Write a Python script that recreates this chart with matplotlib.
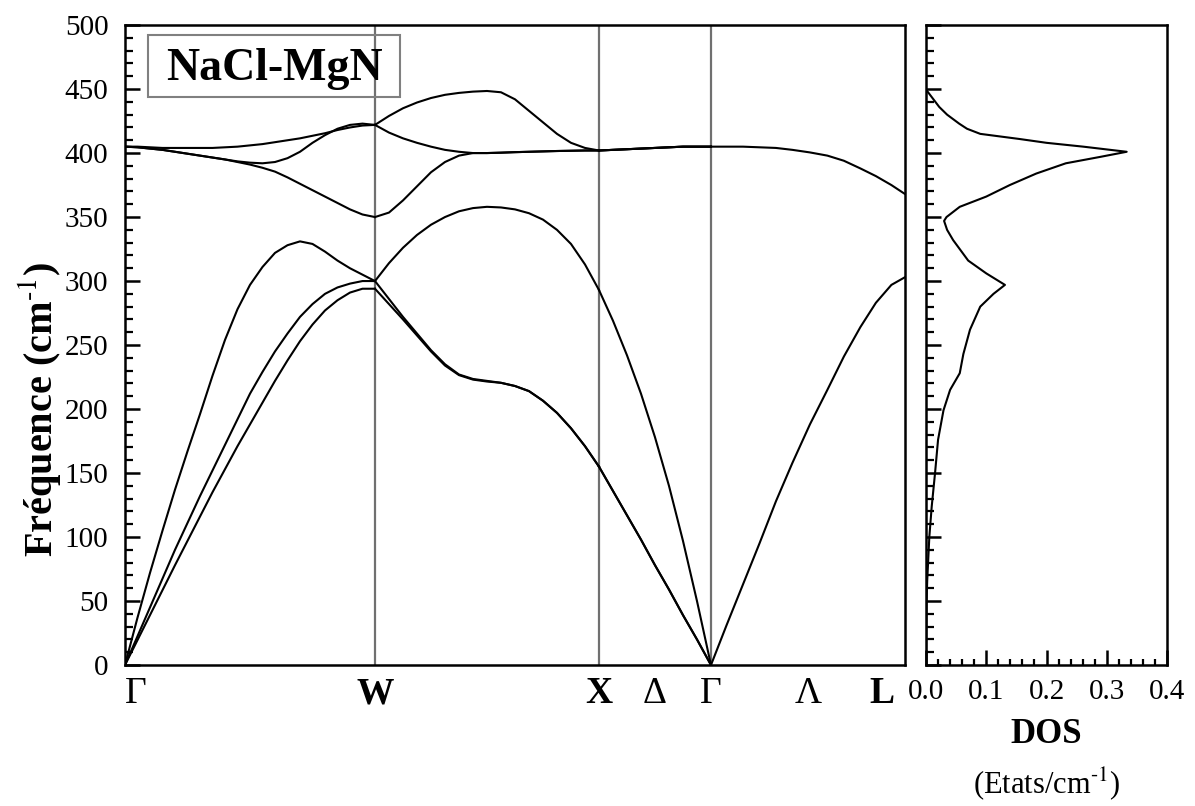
import numpy as np
import matplotlib.pyplot as plt
from matplotlib.ticker import MultipleLocator
from matplotlib.patches import Rectangle
from matplotlib.transforms import ScaledTranslation

plt.rcParams['font.family'] = ['Liberation Serif', 'DejaVu Serif']
plt.rcParams['mathtext.fontset'] = 'stix'

# high symmetry points along the path (path units)
k_nodes = [0.0, 1.0, 1.896, 2.344, 3.12]

# Gamma -> W  (position = fraction of segment, values in cm-1)
gw_s = [0, .05, .1, .15, .2, .25, .3, .35, .4, .45, .5,
        .55, .6, .65, .7, .75, .8, .85, .9, .95, 1.0]
gw_bands = [
    [0, 19.5, 39, 58.5, 78, 97, 116, 135, 153, 171, 188,
     205, 222, 238, 253, 266, 277, 285, 291, 294, 294],
    [0, 22.5, 45, 67.5, 90, 111, 132, 152, 172, 192, 212,
     229, 245, 259, 272, 282, 290, 295, 298, 300, 300],
    [0, 37, 72, 105, 137, 167, 196, 226, 254, 278, 297,
     311, 322, 328, 331, 329, 323, 316, 310, 305, 300],
    [405, 404.5, 403.5, 402.5, 401, 399.5, 398, 396.5, 395, 393, 391,
     388.5, 385.5, 381, 376, 371, 366, 361, 356, 352, 350],
    [405, 404.5, 403.5, 402.5, 401, 399.5, 398, 396.5, 395, 393.5, 392.5,
     392, 393, 396, 401, 408, 414, 419, 422, 423, 422],
    [405, 405, 404.5, 404, 404, 404, 404, 404, 404.5, 405, 406,
     407, 408.5, 410, 411.5, 413.5, 415.5, 418, 420, 421.5, 422],
]

# W -> X
wx_s = [i / 16 for i in range(17)]
wx_bands = [
    [294, 282, 270, 257.5, 245, 234, 226.5, 223, 221.5, 220.5, 218, 214, 206.5, 197, 185, 171, 155],
    [300, 286, 272, 259, 246, 235, 227, 223.5, 222, 220.5, 218, 214, 206.5, 197, 185, 171, 155],
    [300, 314, 326, 336, 344, 350, 354.5, 357, 358, 357.5, 356, 353, 348, 340, 329, 313, 293],
    [350, 353.5, 363, 374, 385, 393, 398, 400, 400, 400.3, 400.7, 401, 401.3, 401.6, 401.8, 402, 402],
    [422, 416, 411.5, 408, 405, 402.5, 401, 400, 400, 400.3, 400.7, 401, 401.3, 401.6, 401.8, 402, 402],
    [422, 429, 435, 439.5, 443, 445.5, 447, 448, 448.5, 447.5, 442, 433, 424, 415, 408, 404, 402],
]

# X -> Gamma
xg_s = [0, .125, .25, .375, .5, .625, .75, .875, 1.0]
xg_bands = [
    [155, 136, 117, 98, 78, 59, 39, 20, 0],
    [155, 136, 117, 98, 78, 59, 39, 20, 0],
    [293, 269, 242, 212, 178, 140, 97, 50, 0],
    [402, 402.5, 403, 403.5, 404, 404.5, 405, 405, 405],
    [402, 402.5, 403, 403.5, 404, 404.5, 405, 405, 405],
    [402, 402.5, 403, 403.5, 404, 404.5, 405, 405, 405],
]

# Gamma -> L
gl_s = [0, .08, .165, .25, .335, .42, .51, .6, .685, .77, .85, .93, 1.0]
gl_bands = [
    [0, 31, 63, 95, 128, 158, 188, 215, 241, 264, 283, 297, 303],
    [405, 405, 405, 404.5, 404, 402.5, 400.5, 398, 394, 388, 382, 375, 368],
]

# phonon density of states
dos_freq = [0, 50, 66, 100, 124, 150, 176, 199, 215, 228, 243, 262, 280, 290,
            297, 306, 316, 332, 340, 347, 350, 358, 366, 375, 384, 392, 397,
            401, 405, 408, 411, 415, 419, 423, 430, 436, 449]
dos_vals = [0, 0.001, 0.002, 0.0055, 0.0095, 0.015, 0.020, 0.029, 0.040, 0.056,
            0.062, 0.073, 0.090, 0.112, 0.131, 0.100, 0.070, 0.045, 0.035, 0.030,
            0.034, 0.056, 0.100, 0.139, 0.183, 0.232, 0.289, 0.333, 0.261, 0.200,
            0.155, 0.090, 0.068, 0.055, 0.035, 0.022, 0.001]

segments = [(gw_s, gw_bands), (wx_s, wx_bands), (xg_s, xg_bands), (gl_s, gl_bands)]

fig = plt.figure(figsize=(11.95, 8.06), dpi=100)
ax = fig.add_axes([0.1046, 0.1749, 0.6527, 0.794])
ax2 = fig.add_axes([0.7749, 0.1749, 0.2017, 0.794])

for i, (s, bands) in enumerate(segments):
    x = k_nodes[i] + np.array(s) * (k_nodes[i + 1] - k_nodes[i])
    for b in bands:
        ax.plot(x, b, color='black', lw=1.5, solid_joinstyle='round')

for k in k_nodes[1:-1]:
    ax.axvline(k, color='#707070', lw=1.6, zorder=0)

ax.set_xlim(k_nodes[0], k_nodes[-1])
ax.set_ylim(0, 500)

# x labels: symmetry points and directions
tick_pos = [k_nodes[0], k_nodes[1], k_nodes[2], (k_nodes[2] + k_nodes[3]) / 2,
            k_nodes[3], (k_nodes[3] + k_nodes[4]) / 2, k_nodes[4]]
tick_lab = ['Γ', 'W', 'X', 'Δ', 'Γ', 'Λ', 'L']
ax.set_xticks(tick_pos)
ax.set_xticklabels(tick_lab, fontsize=27)
ax.tick_params(axis='x', length=0, pad=8)
for lab in ax.get_xticklabels():
    if lab.get_text() in ('W', 'X', 'L'):
        lab.set_fontweight('bold')
xl = ax.get_xticklabels()
xl[0].set_ha('left')
xl[-1].set_transform(xl[-1].get_transform() + ScaledTranslation(-0.23, 0, fig.dpi_scale_trans))

ax.yaxis.set_major_locator(MultipleLocator(50))
ax.yaxis.set_minor_locator(MultipleLocator(10))
ax.tick_params(axis='y', which='major', direction='in', length=11, width=1.8,
               labelsize=21, pad=12)
ax.tick_params(axis='y', which='minor', direction='in', length=5.5, width=1.6)
ax.set_ylabel(r'Fréquence (cm$^{\text{-1}}$)', fontsize=29, fontweight='bold')
ax.yaxis.set_label_coords(-0.08, 0.4)

for sp in ax.spines.values():
    sp.set_linewidth(1.8)

ax.add_patch(Rectangle((0.0295, 0.8875), 0.323, 0.097, transform=ax.transAxes,
                       fill=False, ec='#808080', lw=1.5))
ax.text(0.191, 0.914, 'NaCl-MgN', transform=ax.transAxes, ha='center',
        va='baseline', fontsize=33, fontweight='bold')

# DOS panel
ax2.plot(dos_vals, dos_freq, color='black', lw=1.5, solid_joinstyle='round')
ax2.set_xlim(0, 0.4)
ax2.set_ylim(0, 500)
ax2.xaxis.set_minor_locator(MultipleLocator(0.02))
ax2.yaxis.set_major_locator(MultipleLocator(50))
ax2.yaxis.set_minor_locator(MultipleLocator(10))
ax2.set_xticks([0.0, 0.1, 0.2, 0.3, 0.4])
ax2.set_xticklabels(['0.0', '0.1', '0.2', '0.3', '0.4'])
ax2.tick_params(axis='x', which='major', direction='in', length=11, width=1.8,
                labelsize=21, pad=10)
ax2.tick_params(axis='x', which='minor', direction='in', length=4, width=1.6)
ax2.tick_params(axis='y', which='major', direction='in', length=11, width=1.8,
                labelleft=False)
ax2.tick_params(axis='y', which='minor', direction='in', length=5.5, width=1.6)
for sp in ax2.spines.values():
    sp.set_linewidth(1.8)
ax2.text(0.5, -0.108, 'DOS', transform=ax2.transAxes, ha='center', va='center',
         fontsize=25, fontweight='bold')
ax2.text(0.5, -0.185, r'(Etats/cm$^{\text{-1}}$)', transform=ax2.transAxes,
         ha='center', va='center', fontsize=22)

fig.savefig('out.png', dpi=100)
